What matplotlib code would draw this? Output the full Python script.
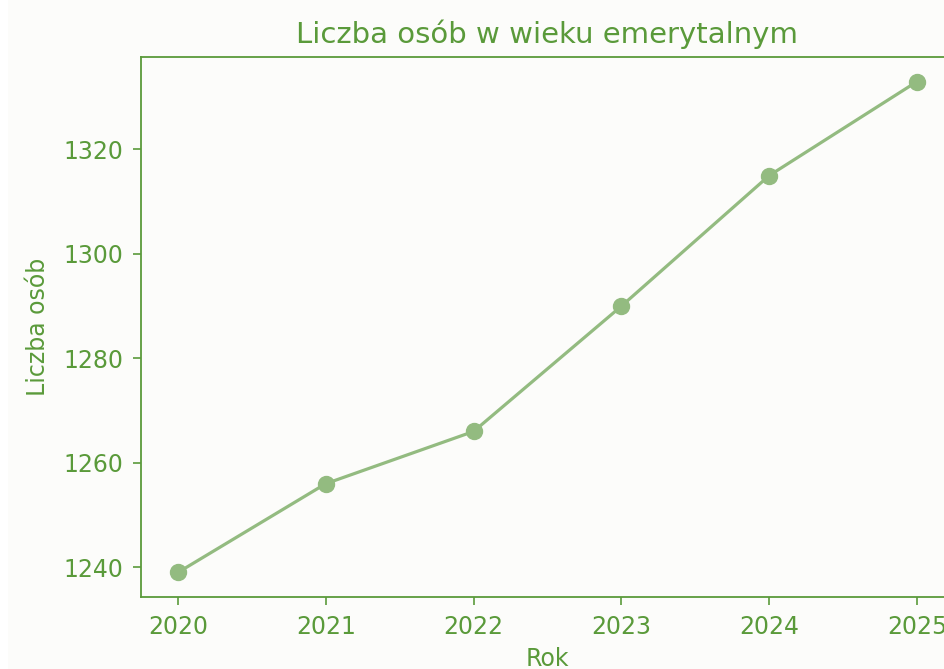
import matplotlib
matplotlib.use("Agg")
import matplotlib.pyplot as plt
from matplotlib.patches import Rectangle

# data
years = [2020, 2021, 2022, 2023, 2024, 2025]
people = [1239, 1256, 1266, 1290, 1315, 1333]

text_color = "#5a9a3a"
line_color = "#93bb80"
bg_color = "#fcfcfa"

fig = plt.figure(figsize=(9.45, 6.69), dpi=100, facecolor=bg_color)
# thin white strip on the left edge, as in the reference
fig.patches.append(Rectangle((0, 0), 8 / 945, 1, transform=fig.transFigure,
                             facecolor="white", edgecolor="none", zorder=-1))

ax = fig.add_axes([141 / 945, 72 / 669, 813 / 945, 540 / 669])
ax.set_facecolor(bg_color)

ax.plot(years, people, color=line_color, linewidth=2.3, marker="o", markersize=11.5)

ax.set_yticks([1240, 1260, 1280, 1300, 1320])
ax.set_xticks(years)

ax.set_title("Liczba osób w wieku emerytalnym", color=text_color, fontsize=21, pad=10)
ax.set_xlabel("Rok", color=text_color, fontsize=17, labelpad=6)
ax.set_ylabel("Liczba osób", color=text_color, fontsize=17, labelpad=9)

ax.tick_params(colors=text_color, labelsize=17, length=6, width=1.2, pad=7)
for spine in ax.spines.values():
    spine.set_color(text_color)
    spine.set_linewidth(1.3)

fig.savefig("out.png", dpi=100, facecolor=bg_color)
